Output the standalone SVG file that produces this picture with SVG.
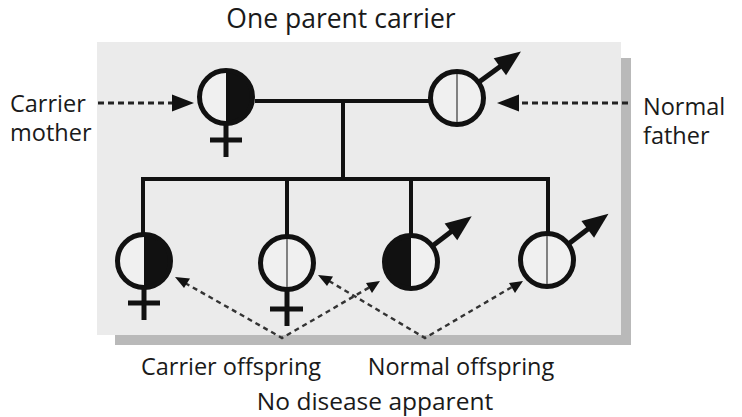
<svg xmlns="http://www.w3.org/2000/svg" width="742" height="417" viewBox="0 0 742 417">
<style>
.lbl{font-family:"Open Sans","DejaVu Sans",sans-serif;font-size:23.5px;fill:#1a1a1a}
.ring{fill:none;stroke:#111;stroke-width:5}
.bg{fill:#f0f0f0}
.half{fill:#111}
.div{stroke:#666;stroke-width:1.6}
.sym{stroke:#111;stroke-width:5;fill:none}
.head{fill:#111}
.line{stroke:#111;stroke-width:4;fill:none}
.dash{stroke:#222;stroke-width:2.8;stroke-dasharray:6 4;fill:none}
.dash2{stroke:#333;stroke-width:2.4;stroke-dasharray:5 4;fill:none}
</style>
<rect width="742" height="417" fill="#ffffff"/>
<rect x="621" y="58" width="10" height="287" fill="#b9b9b9"/>
<rect x="115" y="335" width="516" height="10" fill="#b9b9b9"/>
<rect x="97" y="42" width="524" height="293" fill="#ebebeb"/>

<g id="connectors">
<line class="line" x1="255" y1="101" x2="429" y2="101"/>
<line class="line" x1="343" y1="101" x2="343" y2="179"/>
<line class="line" x1="141" y1="179" x2="550" y2="179"/>
<line class="line" x1="143" y1="179" x2="143" y2="233"/>
<line class="line" x1="287" y1="179" x2="287" y2="235"/>
<line class="line" x1="411" y1="179" x2="411" y2="234"/>
<line class="line" x1="548" y1="179" x2="548" y2="232"/>
<line class="dash" x1="98" y1="103" x2="174" y2="103"/>
<polygon class="head" points="194,103 172,94.5 172,111.5"/>
<line class="dash" x1="628" y1="103" x2="517" y2="103"/>
<polygon class="head" points="497,103 519,94.5 519,111.5"/>
<polyline class="dash2" points="185,283 282,338 370,287"/>
<polygon class="head" points="175,277 190,278.5 184,288"/>
<polygon class="head" points="380,281 372,293 366,283"/>
<polyline class="dash2" points="329,281 425,338 512,287"/>
<polygon class="head" points="318,275 333,276.5 327,286"/>
<polygon class="head" points="523,281 515,293 509,283"/>
</g>

<g id="mother">
<circle class="bg" cx="226" cy="97" r="27"/>
<path class="half" d="M226,70.5 A26.5,26.5 0 0 1 226,123.5 Z"/>
<circle class="ring" cx="226" cy="97" r="26.5"/>
<line class="sym" x1="226" y1="123" x2="226" y2="157"/>
<line class="sym" x1="210" y1="140" x2="242" y2="140"/>
</g>

<g id="father">
<circle class="bg" cx="457" cy="98" r="27"/>
<line class="div" x1="457" y1="71" x2="457" y2="125"/>
<circle class="ring" cx="457" cy="98" r="26.5"/>
<g transform="translate(457,98) rotate(-36)">
<line class="sym" x1="28" y1="0" x2="56" y2="0"/>
<polygon class="head" points="79,0 53,-10.5 53,10.5"/>
</g>
</g>

<g id="child1">
<circle class="bg" cx="144" cy="261" r="27"/>
<path class="half" d="M144,234.5 A26.5,26.5 0 0 1 144,287.5 Z"/>
<circle class="ring" cx="144" cy="261" r="26.5"/>
<line class="sym" x1="144" y1="287" x2="144" y2="320"/>
<line class="sym" x1="128" y1="303" x2="160" y2="303"/>
</g>

<g id="child2">
<circle class="bg" cx="287" cy="263" r="27"/>
<line class="div" x1="287" y1="236" x2="287" y2="290"/>
<circle class="ring" cx="287" cy="263" r="26.5"/>
<line class="sym" x1="287" y1="289" x2="287" y2="326"/>
<line class="sym" x1="270" y1="309" x2="303" y2="309"/>
</g>

<g id="child3">
<circle class="bg" cx="411" cy="262" r="27"/>
<path class="half" d="M411,235.5 A26.5,26.5 0 0 0 411,288.5 Z"/>
<circle class="ring" cx="411" cy="262" r="26.5"/>
<g transform="translate(411,262) rotate(-37)">
<line class="sym" x1="28" y1="0" x2="53" y2="0"/>
<polygon class="head" points="76,0 50,-10.5 50,10.5"/>
</g>
</g>

<g id="child4">
<circle class="bg" cx="547" cy="260" r="27"/>
<line class="div" x1="547" y1="233" x2="547" y2="287"/>
<circle class="ring" cx="547" cy="260" r="26.5"/>
<g transform="translate(547,260) rotate(-37)">
<line class="sym" x1="28" y1="0" x2="53" y2="0"/>
<polygon class="head" points="77,0 51,-10.5 51,10.5"/>
</g>
</g>

<g id="labels">
<text class="lbl" x="341" y="28" text-anchor="middle" style="font-size:26.5px">One parent carrier</text>
<text class="lbl" x="10" y="112">Carrier</text>
<text class="lbl" x="10" y="141">mother</text>
<text class="lbl" x="643" y="115">Normal</text>
<text class="lbl" x="643" y="144">father</text>
<text class="lbl" x="231" y="375" text-anchor="middle">Carrier offspring</text>
<text class="lbl" x="461" y="375" text-anchor="middle">Normal offspring</text>
<text class="lbl" x="375" y="410" text-anchor="middle" style="font-size:24.5px">No disease apparent</text>
</g>
</svg>
